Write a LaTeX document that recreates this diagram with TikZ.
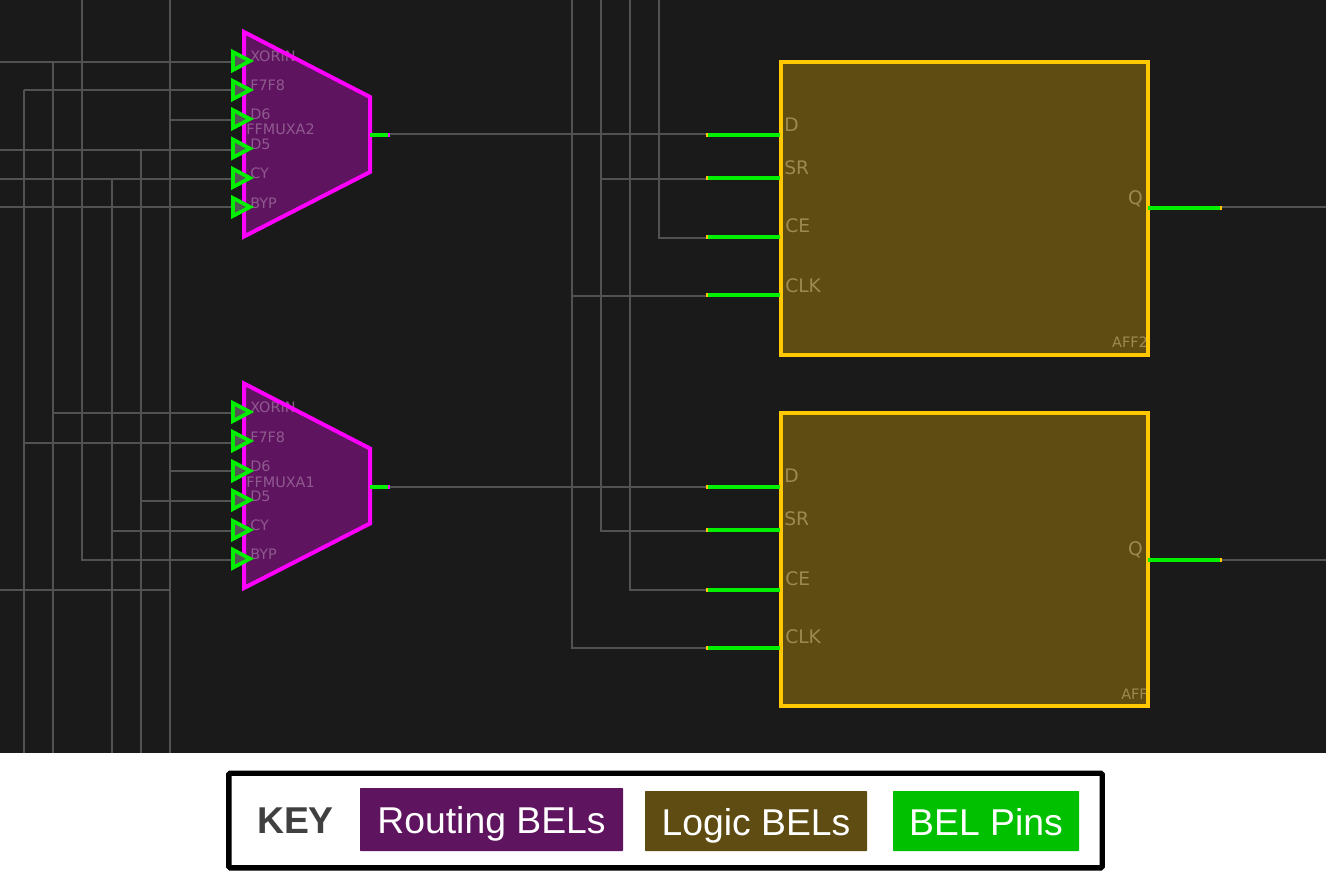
\documentclass[tikz,border=0pt]{standalone}
\usepackage{fontspec}
\setmainfont{Liberation Sans}
\newfontfamily\belfont{DejaVu Sans}
\definecolor{bgdark}{HTML}{1A1A1A}
\definecolor{wirec}{HTML}{525252}
\definecolor{routec}{HTML}{5F145F}
\definecolor{logicc}{HTML}{5F4C12}
\definecolor{pinc}{HTML}{00C000}
\definecolor{pinbright}{HTML}{00F000}
\definecolor{muxline}{HTML}{FF00FF}
\definecolor{ffline}{HTML}{FFC800}
\definecolor{muxtext}{HTML}{8F5A8F}
\definecolor{fftext}{HTML}{9C8A52}
\definecolor{keytext}{HTML}{404040}
\definecolor{trifill}{HTML}{555555}
\tikzset{
  x=0.75pt,y=-0.75pt,
  wire/.style={draw=wirec,line width=1.2pt},
  muxbody/.style={fill=routec},
  muxedge/.style={draw=muxline,line width=3pt,miter limit=10},
  ffbody/.style={fill=logicc,rectangle,inner sep=0pt,outer sep=0pt,anchor=north west},
  ffedge/.style={draw=ffline,line width=3pt},
  pinwire/.style={draw=pinbright,line width=3pt},
  pintip/.style={line width=3pt},
  pintri/.style={draw=pinbright,line width=2.8pt,fill=trifill,line join=miter,miter limit=10},
  muxlabel/.style={text=muxtext,font=\belfont\fontsize{10.8pt}{10.8pt}\selectfont,inner sep=0pt,anchor=west},
  fflabel/.style={text=fftext,font=\belfont\fontsize{14pt}{14pt}\selectfont,inner sep=0pt,anchor=west},
  instlabel/.style={text=fftext,font=\belfont\fontsize{10.8pt}{10.8pt}\selectfont,inner sep=0pt,anchor=east},
  keybox/.style={rectangle,text=white,inner sep=0pt,font=\fontsize{28pt}{28pt}\selectfont,anchor=center,rounded corners=0.5pt,text height=26pt,text depth=5pt},
}
\begin{document}
\begin{tikzpicture}
\useasboundingbox (0,0) rectangle (1326,870);
\fill[white] (0,0) rectangle (1326,870);
\fill[bgdark] (0,0) rectangle (1326,753);

% free wire ends
\foreach \n/\x/\y in {
  ttb/82/0, tte/170/0, tfa/572/0, tfb/601/0, tfc/630/0, tfd/659/0,
  eb/82/560,
  ba/24/753, bb/53/753, bc/112/753, bd/141/753, be/170/753,
  sa/24/90, sb/53/62, sc/112/179, sd/141/150,
  l1/0/62, l4/0/150, l5/0/179, l6/0/207, l7/0/590, j7/170/590,
  jd/170/120,
  q2e/1326/207, q1e/1326/560,
  jb3/170/471, jb1/53/413, jb2/24/443, jb4/141/501, jb5/112/531,
  jf2s/601/179, jf2k/572/296,
  fse/601/531, fce/630/590, fke/572/648, fde/659/238}
  \coordinate (\n) at (\x,\y);

% input pin ends of upper and lower mux
\foreach \n/\y in {a1/62,a2/90,a3/120,a4/150,a5/179,a6/207,b1/413,b2/443,b3/471,b4/501,b5/531,b6/560}
  \coordinate (\n) at (233,\y);

% flip-flop pin stubs
\foreach \n/\y/\w in {d2/134.7/134, s2/178.3/179, c2/236.5/238, k2/295/296, d1/486.5/487, s1/529.5/531, c1/589.5/590, k1/648/648}{
  \coordinate (\n o) at (706,\y);
  \coordinate (\n i) at (780,\y);
  \coordinate (\n w) at (706,\w);
}
\coordinate (m2o) at (370,134.7);
\coordinate (m2e) at (390,134.7);
\coordinate (m2w) at (390,134);
\coordinate (m1o) at (370,486.5);
\coordinate (m1e) at (390,486.5);
\coordinate (m1w) at (390,487);
\coordinate (q2i) at (1148,208);
\coordinate (q2o) at (1222,208);
\coordinate (q2w) at (1222,207);
\coordinate (q1i) at (1148,560);
\coordinate (q1o) at (1222,560);
\coordinate (q1w) at (1222,560);

% wires
\draw[wire] (sa) -- (ba);
\draw[wire] (sb) -- (bb);
\draw[wire] (ttb) -- (eb) -- (b6);
\draw[wire] (sc) -- (bc);
\draw[wire] (sd) -- (bd);
\draw[wire] (tte) -- (be);
\draw[wire] (l1) -- (a1);
\draw[wire] (sa) -- (a2);
\draw[wire] (jd) -- (a3);
\draw[wire] (l4) -- (a4);
\draw[wire] (l5) -- (a5);
\draw[wire] (l6) -- (a6);
\draw[wire] (jb1) -- (b1);
\draw[wire] (jb2) -- (b2);
\draw[wire] (jb3) -- (b3);
\draw[wire] (jb4) -- (b4);
\draw[wire] (jb5) -- (b5);
\draw[wire] (l7) -- (j7);
\draw[wire] (tfa) -- (fke) -- (k1w);
\draw[wire] (tfb) -- (fse) -- (s1w);
\draw[wire] (tfc) -- (fce) -- (c1w);
\draw[wire] (tfd) -- (fde) -- (c2w);
\draw[wire] (m2w) -- (d2w);
\draw[wire] (jf2s) -- (s2w);
\draw[wire] (jf2k) -- (k2w);
\draw[wire] (m1w) -- (d1w);
\draw[wire] (q2w) -- (q2e);
\draw[wire] (q1w) -- (q1e);

% muxes
\foreach \o in {0,351.5}{
  \fill[muxbody] (244,32+\o) -- (370,97+\o) -- (370,172+\o) -- (244,236.5+\o) -- cycle;
}
% mux labels
\foreach \n/\t/\y in {xa/XORIN/56, fa/F7F8/85, da/D6/114, ea/D5/144, ca/CY/173, ba2/BYP/203,
                      xb/XORIN/407, fb/F7F8/437, db/D6/466, eb2/D5/496, cb/CY/525, bb2/BYP/554}
  \node[muxlabel] (lab\n) at (250,\y) {\t};
\node[muxlabel] (muxa) at (246,129) {FFMUXA2};
\node[muxlabel] (muxb) at (246,482) {FFMUXA1};
\foreach \o in {0,351.5}{
  \draw[muxedge] (244,32+\o) -- (370,97+\o) -- (370,172+\o) -- (244,236.5+\o) -- cycle;
}
% mux input triangles
\foreach \y in {61,90,119,148.5,178,207,412,441,471,500,530,558.7}
  \draw[pintri] (233,\y-9) -- (233,\y+9) -- (250,\y) -- cycle;
% mux output stubs
\draw[pinwire] (m2o) -- (m2e);
\draw[pinwire] (m1o) -- (m1e);
\fill[muxline] (388,132.7) rectangle (390,136.7);
\fill[muxline] (388,484.5) rectangle (390,488.5);

% flip-flops
\node[ffbody,minimum width=275pt,minimum height=219.4pt] (ff2) at (781,62) {};
\node[ffbody,minimum width=275pt,minimum height=219.75pt] (ff1) at (781,413) {};
\foreach \n/\t/\x/\y in {ld2/D/784/124.5, ls2/SR/784/168, lc2/CE/785/226, lk2/CLK/785/286,
                         ld1/D/784/476, ls1/SR/784/519, lc1/CE/785/579, lk1/CLK/785/637}
  \node[fflabel] (\n) at (\x,\y) {\t};
\node[fflabel,anchor=east] (lq2) at (1143,199) {Q};
\node[fflabel,anchor=east] (lq1) at (1143,550) {Q};
\node[instlabel] (inst2) at (1148,342) {AFF2};
\node[instlabel] (inst1) at (1148,694) {AFF};
\draw[ffedge] (ff2.north west) rectangle (ff2.south east);
\draw[ffedge] (ff1.north west) rectangle (ff1.south east);

\foreach \n in {d2,s2,c2,k2,d1,s1,c1,k1}{
  \draw[pinwire] (\n o) -- (\n i);
  \draw[pintip,draw=ffline] (\n o) -- ++(1.5,0);
}
\draw[pinwire] (q2i) -- (q2o);
\draw[pinwire] (q1i) -- (q1o);
\draw[pintip,draw=ffline] (q2o) -- ++(-2,0);
\draw[pintip,draw=ffline] (q1o) -- ++(-2,0);

% key
\node[draw=black,line width=4pt,fill=white,minimum width=655pt,minimum height=71pt,rounded corners=1pt,inner sep=0pt] (keyframe) at (665.5,820.5) {};
\node[text=keytext,font=\bfseries\fontsize{28pt}{28pt}\selectfont,inner sep=0pt] (keyt) at (295.5,821) {KEY};
\node[keybox,fill=routec,minimum width=197.25pt,minimum height=47.25pt] (kr) at (491.5,819.5) {Routing BELs};
\node[keybox,fill=logicc,minimum width=166.5pt,minimum height=45pt,text height=26.7pt,text depth=5pt] (kl) at (756,821) {Logic BELs};
\node[keybox,fill=pinc,minimum width=139.5pt,minimum height=45pt] (kp) at (986,821) {BEL Pins};
\end{tikzpicture}
\end{document}
